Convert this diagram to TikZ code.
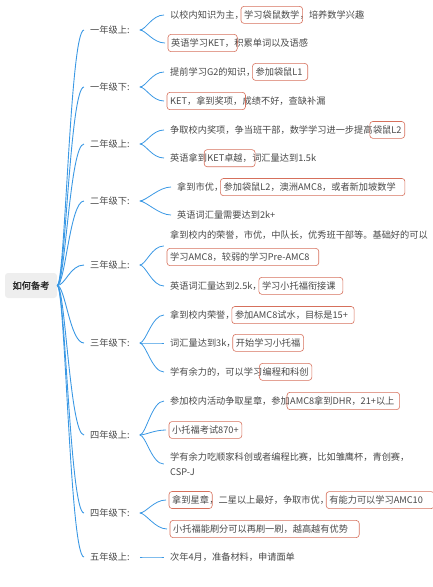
\documentclass[tikz,border=0pt]{standalone}
\usepackage{fontspec}
\setmainfont{Noto Sans CJK SC}
\newfontfamily\rootfont[FakeBold=1.2]{Noto Sans CJK SC}
\usetikzlibrary{positioning,fit}
\definecolor{mapblue}{RGB}{58,152,228}
\definecolor{mapred}{RGB}{214,112,92}
\definecolor{maptext}{RGB}{72,72,72}
\definecolor{rootgray}{RGB}{238,238,238}
\tikzset{
	txt/.style={inner sep=0pt,text=maptext,font=\fontsize{9.2}{11}\selectfont},
	grade/.style={txt,anchor=west},
	item/.style={txt,anchor=west},
	seg/.style={txt,anchor=base west},
	rootbox/.style={fill=rootgray,rounded corners=3pt,minimum width=52pt,minimum height=25pt,
		inner sep=0pt,text=black!85,font=\rootfont\fontsize{9.2}{11}\selectfont},
	hl/.style={draw=mapred,rounded corners=3pt,inner xsep=3pt,inner ysep=4pt,line width=0.6pt},
	trunk/.style={draw=mapblue,line width=0.9pt},
	twig/.style={draw=mapblue,line width=0.8pt}
}

\begin{document}
\begin{tikzpicture}[x=1pt,y=-1pt]
\useasboundingbox (0,0) rectangle (433,587);
\node[rootbox] (root) at (31,285.5) {如何备考};
% grades
\node[grade] (g1) at (90,30) {一年级上:};
\node[grade] (g2) at (90,87) {一年级下:};
\node[grade] (g3) at (90,144) {二年级上:};
\node[grade] (g4) at (90,201) {二年级下:};
\node[grade] (g5) at (90,265) {三年级上:};
\node[grade] (g6) at (90,343) {三年级下:};
\node[grade] (g7) at (90,435) {四年级上:};
\node[grade] (g8) at (90,513) {四年级下:};
\node[grade] (g9) at (90,557) {五年级上:};
% items
\node[item] (i1) at (170,15) {以校内知识为主，};
\node[seg] (i1b) at (i1.base east) {学习袋鼠数学};
\node[seg] (i1c) at (i1b.base east) {，培养数学兴趣};
\node[item] (i2) at (171,43) {英语学习KET，};
\node[seg] (i2b) at (i2.base east) {积累单词以及语感};
\node[item] (i3) at (170,72) {提前学习G2的知识，};
\node[seg] (i3b) at (i3.base east) {参加袋鼠L1};
\node[item] (i4) at (170,101) {KET，拿到奖项，};
\node[seg] (i4b) at (i4.base east) {成绩不好，查缺补漏};
\node[item] (i5) at (170,130) {争取校内奖项，争当班干部，数学学习进一步提高};
\node[seg] (i5b) at (i5.base east) {袋鼠L2};
\node[item] (i6) at (170,158) {英语拿到};
\node[seg] (i6b) at (i6.base east) {KET卓越，};
\node[seg] (i6c) at (i6b.base east) {词汇量达到1.5k};
\node[item] (i7) at (177,187) {拿到市优，};
\node[seg] (i7b) at (i7.base east) {参加袋鼠L2，澳洲AMC8，或者新加坡数学};
\node[item] (i8) at (177,215) {英语词汇量需要达到2k+};
\node[item] (i9) at (170,235) {拿到校内的荣誉，市优，中队长，优秀班干部等。基础好的可以};
\node[item] (i9b) at (170,257) {学习AMC8，较弱的学习Pre-AMC8};
\node[inner sep=0pt,fit={(i9)(i9b)}] (i9all) {};
\node[item] (i10) at (170,286) {英语词汇量达到2.5k，};
\node[seg] (i10b) at (i10.base east) {学习小托福衔接课};
\node[item] (i11) at (170,315) {拿到校内荣誉，};
\node[seg] (i11b) at (i11.base east) {参加AMC8试水，目标是15+};
\node[item] (i12) at (170,343) {词汇量达到3k，};
\node[seg] (i12b) at (i12.base east) {开始学习小托福};
\node[item] (i13) at (170,372) {学有余力的，可以学习};
\node[seg] (i13b) at (i13.base east) {编程和科创};
\node[item] (i14) at (170,401) {参加校内活动争取星章，参加};
\node[seg] (i14b) at (i14.base east) {AMC8拿到DHR，21+以上};
\node[item] (i15) at (172,430) {小托福考试870+};
\node[item] (i16) at (170,457) {学有余力吃顺家科创或者编程比赛，比如雏鹰杯，青创赛，};
\node[item] (i16b) at (170,472) {CSP-J};
\node[inner sep=0pt,fit={(i16)(i16b)}] (i16all) {};
\node[item] (i17) at (172,500) {拿到星章};
\node[seg] (i17b) at (i17.base east) {，二星以上最好，争取市优，};
\node[seg] (i17c) at (i17b.base east) {有能力可以学习AMC10};
\node[item] (i18) at (173,529) {小托福能刷分可以再刷一刷，越高越有优势};
\node[item] (i19) at (170,557) {次年4月，准备材料，申请面单};
% red marks
\foreach \s/\e in {i1b/0,i2/0,i3b/2,i4/0,i5b/0,i6b/0,i7b/6,i9b/6,i10b/4,i11b/3,i12b/0,
	i13b/0,i14b/2,i15/0,i17/0,i17c/8,i18/8}
	\node[hl,fit={(\s)([xshift=\e pt]\s.east)}] {};
% connectors
\foreach \k in {1,...,9}
	\draw[trunk] (root.east) .. controls +(8,0) and +(-14,0) .. ([xshift=-6pt]g\k.west);
\foreach \g/\i in {g1/i1,g1/i2,g2/i3,g2/i4,g3/i5,g3/i6,g4/i7,g4/i8,g5/i9all,g5/i10,
	g6/i11,g6/i12,g6/i13,g7/i14,g7/i15,g7/i16all,g8/i17,g8/i18,g9/i19}
	\draw[twig] ([xshift=10pt]\g.east) .. controls +(6,0) and +(-12,0) .. ([xshift=-6pt]\i.west);
\end{tikzpicture}
\end{document}
